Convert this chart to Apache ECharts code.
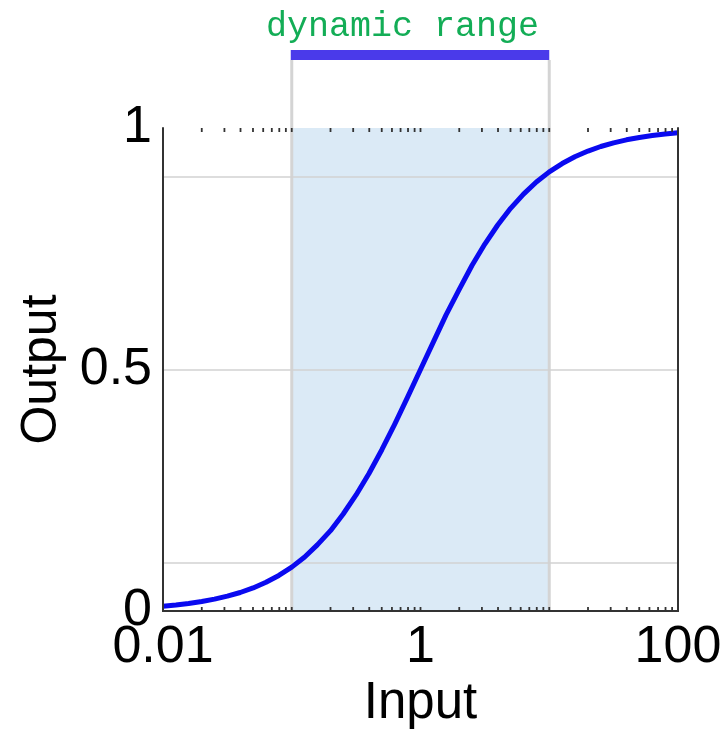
<!DOCTYPE html>
<html>
<head>
<meta charset="utf-8">
<script src="https://cdn.jsdelivr.net/npm/echarts@6/dist/echarts.min.js"></script>
<style>
    html, body {margin: 0; padding: 0; background: #fff;}
    #main {width: 727px; height: 735px;}
</style>
</head>
<body>
<div id="main"></div>
<script>
// 曲线数据
var inputX = [0.01, 0.0126, 0.0158, 0.02, 0.0251, 0.0316, 0.0398, 0.0501, 0.0631, 0.0794,
    0.1, 0.126, 0.158, 0.2, 0.251, 0.316, 0.398, 0.501, 0.631, 0.794,
    1, 1.26, 1.58, 2, 2.51, 3.16, 3.98, 5.01, 6.31, 7.94,
    10, 12.6, 15.8, 20, 25.1, 31.6, 39.8, 50.1, 63.1, 79.4, 100];
var outputY = [0.0099, 0.0124, 0.0156, 0.0196, 0.0245, 0.0307, 0.0383, 0.0477, 0.0594, 0.0736,
    0.0909, 0.1118, 0.1368, 0.1663, 0.2008, 0.2403, 0.2847, 0.3339, 0.3869, 0.4427,
    0.5, 0.5573, 0.6131, 0.6661, 0.7153, 0.7597, 0.7992, 0.8337, 0.8632, 0.8882,
    0.9091, 0.9264, 0.9406, 0.9523, 0.9617, 0.9693, 0.9755, 0.9804, 0.9844, 0.9876, 0.9901];
var rangeX = [0.1, 10];          // dynamic range
var gridY = [0.1, 0.5, 0.9];     // 横向网格线
var xLabels = [0.01, 1, 100];
var decades = [0.01, 0.1, 1, 10];

var minorTicks = [];
for (var d = 0; d < decades.length; d++) {
    for (var k = 1; k < 10; k++) {
        if (d === 0 && k === 1) continue;
        minorTicks.push(+(decades[d] * k).toPrecision(3));
    }
}

var curve = [];
for (var i = 0; i < inputX.length; i++) {
    curve.push([inputX[i], outputY[i]]);
}

var myChart = echarts.init(document.getElementById('main'));
var numFont = 'Liberation Sans, Arial, sans-serif';
var option = {
    animation: false,
    title: {
        text: 'dynamic range',
        left: 261,
        top: 4,
        textStyle: {
            fontFamily: 'Liberation Mono, Courier New, monospace',
            fontSize: 35,
            fontWeight: 'normal',
            color: '#13ad56'
        }
    },
    grid: {left: 163, right: 49, top: 128, bottom: 124},
    xAxis: [{
        type: 'log',
        min: 0.01,
        max: 100,
        splitNumber: 4,
        z: 10,
        name: 'Input',
        nameLocation: 'middle',
        nameGap: 50,
        nameTextStyle: {fontFamily: numFont, fontSize: 51, color: '#000'},
        axisLine: {show: true, lineStyle: {color: '#333', width: 2}},
        axisTick: {show: false},
        splitLine: {show: false},
        axisLabel: {
            margin: 11,
            fontFamily: numFont,
            fontSize: 52,
            color: '#000',
            formatter: function (v) {
                for (var j = 0; j < xLabels.length; j++) {
                    if (Math.abs(v - xLabels[j]) < xLabels[j] * 1e-6) return String(xLabels[j]);
                }
                return '';
            }
        }
    }, {
        type: 'log',
        position: 'top',
        min: 0.01,
        max: 100,
        z: 10,
        axisLine: {show: true, lineStyle: {color: '#333', width: 2}},
        axisTick: {show: false},
        axisLabel: {show: false},
        splitLine: {show: false}
    }],
    yAxis: [{
        type: 'value',
        min: 0,
        max: 1,
        interval: 0.5,
        z: 10,
        name: 'Output',
        nameLocation: 'middle',
        nameGap: 96,
        nameTextStyle: {fontFamily: numFont, fontSize: 50, color: '#000'},
        axisLine: {show: true, lineStyle: {color: '#333', width: 2}},
        axisTick: {show: false},
        splitLine: {show: false},
        axisLabel: {margin: 11, fontFamily: numFont, fontSize: 52, color: '#000'}
    }, {
        type: 'value',
        position: 'right',
        min: 0,
        max: 1,
        z: 10,
        axisLine: {show: true, lineStyle: {color: '#333', width: 2}},
        axisTick: {show: false},
        axisLabel: {show: false},
        splitLine: {show: false}
    }],
    series: [{
        // 阴影区域
        type: 'line',
        z: 1,
        data: [],
        markArea: {
            silent: true,
            itemStyle: {color: '#dbeaf6'},
            data: [[{xAxis: rangeX[0]}, {xAxis: rangeX[1]}]]
        }
    }, {
        // 网格线
        type: 'line',
        z: 2,
        data: [],
        markLine: {
            silent: true,
            symbol: 'none',
            label: {show: false},
            lineStyle: {color: '#d2d2d2', width: 1.5, type: 'solid'},
            data: gridY.map(function (v) { return {yAxis: v}; })
        }
    }, {
        // 竖线
        type: 'custom',
        z: 2,
        clip: false,
        silent: true,
        data: rangeX.map(function (v) { return [v, 0]; }),
        renderItem: function (params, api) {
            var a = api.coord([api.value(0), 0]);
            var b = api.coord([api.value(0), 1]);
            return {
                type: 'line',
                shape: {x1: a[0], y1: a[1], x2: a[0], y2: b[1] - 68},
                style: {stroke: '#d4d4d4', lineWidth: 3}
            };
        }
    }, {
        // 蓝色条
        type: 'custom',
        z: 3,
        clip: false,
        silent: true,
        data: [[rangeX[0], rangeX[1]]],
        renderItem: function (params, api) {
            var a = api.coord([api.value(0), 1]);
            var b = api.coord([api.value(1), 1]);
            return {
                type: 'rect',
                shape: {x: a[0] - 1, y: a[1] - 78, width: b[0] - a[0] + 1, height: 10},
                style: {fill: '#4a3aea'}
            };
        }
    }, {
        // 曲线
        type: 'line',
        z: 5,
        data: curve,
        smooth: false,
        showSymbol: false,
        lineStyle: {color: '#0a0af0', width: 5, join: 'round'}
    }, {
        // 刻度
        type: 'custom',
        z: 11,
        clip: false,
        silent: true,
        data: minorTicks.map(function (v) { return [v, 0]; }),
        renderItem: function (params, api) {
            var a = api.coord([api.value(0), 0]);
            var b = api.coord([api.value(0), 1]);
            return {
                type: 'group',
                children: [{
                    type: 'line',
                    shape: {x1: a[0], y1: a[1], x2: a[0], y2: a[1] - 4},
                    style: {stroke: '#333', lineWidth: 1.8}
                }, {
                    type: 'line',
                    shape: {x1: b[0], y1: b[1], x2: b[0], y2: b[1] + 4},
                    style: {stroke: '#333', lineWidth: 1.8}
                }]
            };
        }
    }]
};
myChart.setOption(option);
</script>
</body>
</html>
